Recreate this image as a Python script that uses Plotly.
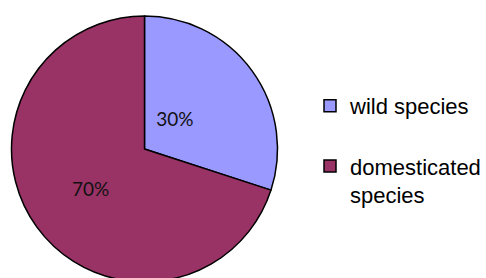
import plotly.graph_objects as go

categories = ["wild species<br>\u00a0", "domesticated<br>species"]
values = [30, 70]
colors = ["#9999FF", "#993366"]
label_templates = ["\u00a0<br>%{percent:.0%}" + "\u00a0" * 12, "%{percent:.0%}"]

fig = go.Figure(go.Pie(
    labels=categories,
    values=values,
    sort=False,
    direction="clockwise",
    rotation=0,
    marker=dict(colors=colors, line=dict(color="black", width=1.5)),
    texttemplate=label_templates,
    textposition="inside",
    insidetextorientation="horizontal",
    textfont=dict(family="Lato", size=19, color="#111111"),
    domain=dict(x=[0, 289/486], y=[0, 1]),
    hoverinfo="skip",
))

fig.update_layout(
    width=486, height=282,
    margin=dict(l=0, r=0, t=16, b=0),
    paper_bgcolor="white",
    plot_bgcolor="white",
    showlegend=True,
    legend=dict(
        x=0.638, xanchor="left",
        y=1 - 69/266, yanchor="top",
        valign="top",
        font=dict(family="Liberation Sans", size=22, color="black"),
        bgcolor="rgba(0,0,0,0)",
        tracegroupgap=0,
    ),
)

fig.write_html(
    "out.html",
    config={"displayModeBar": False},
    post_script="document.body.style.margin='0';document.body.style.overflow='hidden';document.documentElement.style.overflow='hidden';",
)
